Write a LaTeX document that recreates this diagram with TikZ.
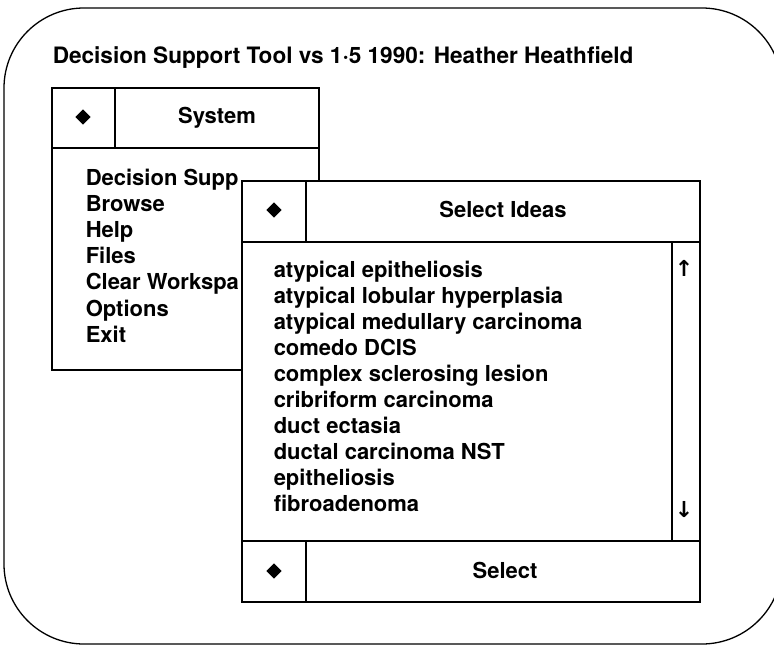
\documentclass[tikz,border=0pt]{standalone}
\usepackage{fontspec}
\setmainfont{TeX Gyre Heros}
\newfontfamily\arrowfont{DejaVu Sans}
\usetikzlibrary{shapes.geometric}

\tikzset{
  box/.style={draw, line width=1.5pt, fill=white},
  dot/.style={diamond, fill=black, inner sep=0pt, minimum width=16pt, minimum height=16pt},
  lbl/.style={font=\fontsize{22}{26}\selectfont\bfseries, inner sep=0pt},
  scrollarrow/.style={inner sep=0pt, font=\fontsize{22}{26}\selectfont\arrowfont\bfseries},
}

\begin{document}
\begin{tikzpicture}[x=1pt, y=-1pt, line width=1.5pt]
            \useasboundingbox (0,0) rectangle (774,646);
            % outer frame, the right side runs off the page
            \draw[line width=1.3pt, rounded corners=80pt] (4,8) rectangle (782,644);
            \node[lbl, font=\fontsize{22.6}{26}\selectfont\bfseries, anchor=base west] (title) at (52,63) {Decision Support Tool vs 1·5 1990: Heather Heathfield};

            % System window
            \draw[box] (52,88) rectangle (319,370);
            \draw (52,148) -- (319,148);
            \draw (115,88) -- (115,148);
            \node[dot] (sysdot) at (83,117) {};
            \node[lbl, anchor=base] (systitle) at (217,123) {System};
            \foreach \entry [count=\i from 0] in {Decision Supp, Browse, Help, Files, Clear Workspa, Options, Exit}
                \node[lbl, anchor=base west] (menu\i) at (85,185+26.2*\i) {\entry};

            % Select Ideas window
            \draw[box] (242,181) rectangle (700,602);
            \draw (242,242) -- (700,242);
            \draw (306,181) -- (306,242);
            \draw (242,541) -- (700,541);
            \draw (306,541) -- (306,602);
            \draw (672,242) -- (672,541);
            \node[dot] (seldot) at (274,210) {};
            \node[lbl, anchor=base] (seltitle) at (503,217) {Select Ideas};
            \foreach \entry [count=\i from 0] in {atypical epitheliosis, atypical lobular hyperplasia, atypical medullary carcinoma, comedo DCIS, complex sclerosing lesion, cribriform carcinoma, duct ectasia, ductal carcinoma NST, epitheliosis, fibroadenoma}
                \node[lbl, anchor=base west] (idea\i) at (273,277+26*\i) {\entry};
            \node[scrollarrow] (scrollup) at (684,268) {↑};
            \node[scrollarrow] (scrolldown) at (684,510) {↓};
            \node[dot] (btndot) at (274,571) {};
            \node[lbl, anchor=base] (btnselect) at (505,578) {Select};
        \end{tikzpicture}
\end{document}
